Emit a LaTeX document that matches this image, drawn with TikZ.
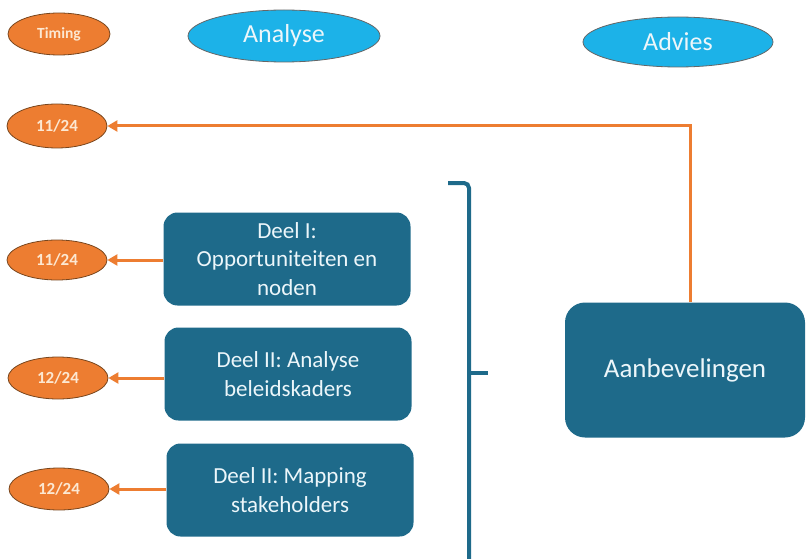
\documentclass[tikz,border=0pt]{standalone}
\usepackage{fontspec}
\setmainfont{Carlito}
\usetikzlibrary{shapes.geometric,arrows.meta}
\definecolor{tOrange}{RGB}{237,125,49}
\definecolor{tOrangeEdge}{RGB}{120,70,30}
\definecolor{tSky}{RGB}{28,178,232}
\definecolor{tTeal}{RGB}{30,106,138}
\definecolor{tText}{RGB}{236,246,250}
\definecolor{tSmallText}{RGB}{252,232,210}
\tikzset{
  timeell/.style={ellipse, fill=tOrange, draw=tOrangeEdge, line width=0.8pt, inner sep=0pt,
    minimum width=100pt, minimum height=42pt, text=tSmallText, font=\bfseries\fontsize{17}{20}\selectfont},
  phaseell/.style={ellipse, fill=tSky, draw=black!60, line width=0.8pt, inner sep=0pt,
    minimum width=192pt, minimum height=52pt, text=tText, font=\fontsize{26}{28}\selectfont},
  partbox/.style={rectangle, rounded corners=14pt, fill=tTeal, inner sep=0pt,
    minimum width=247pt, minimum height=93pt, text=tText, align=center,
    font=\fontsize{23}{28.5}\selectfont},
  conn/.style={draw=tOrange, line width=3pt, -{Triangle[length=10pt,width=11pt]}},
  bracket/.style={draw=tTeal, line width=4pt}
}
\begin{document}
\begin{tikzpicture}[x=1pt,y=-1pt]
\useasboundingbox (0,0) rectangle (806,559);
\node[timeell, minimum width=102pt, font=\bfseries\fontsize{15.5}{18}\selectfont] (timing) at (59,34) {Timing};
\node[phaseell] (analyse) at (284,36) {Analyse};
\node[phaseell, minimum width=190pt, minimum height=50pt] (advies) at (678,42) {Advies};
\node[timeell, minimum height=44pt] (t1) at (57,126) {11/24};
\node[timeell, minimum height=40pt] (t2) at (57,260) {11/24};
\node[timeell] (t3) at (58,378) {12/24};
\node[timeell] (t4) at (59,489) {12/24};
\node[partbox] (d1) at (287,259) {Deel I:\\Opportuniteiten en\\noden};
\node[partbox] (d2) at (288,374) {Deel II: Analyse\\beleidskaders};
\node[partbox] (d3) at (290,490) {Deel II: Mapping\\stakeholders};
\node[partbox, minimum width=240pt, minimum height=135pt, rounded corners=20pt,
  font=\fontsize{27}{30}\selectfont] (aan) at (685,370) {Aanbevelingen};
\draw[conn] ([xshift=5pt]aan.north) |- (t1.east);
\draw[conn] (d1.west |- t2.east) -- (t2.east);
\draw[conn] (d2.west |- t3.east) -- (t3.east);
\draw[conn] (d3.west |- t4.east) -- (t4.east);
\draw[bracket] (448,183) -- (464,183) arc[start angle=90, end angle=0, radius=5pt] -- (469,562);
\draw[bracket] (469,373) -- (488,373);
\end{tikzpicture}
\end{document}
